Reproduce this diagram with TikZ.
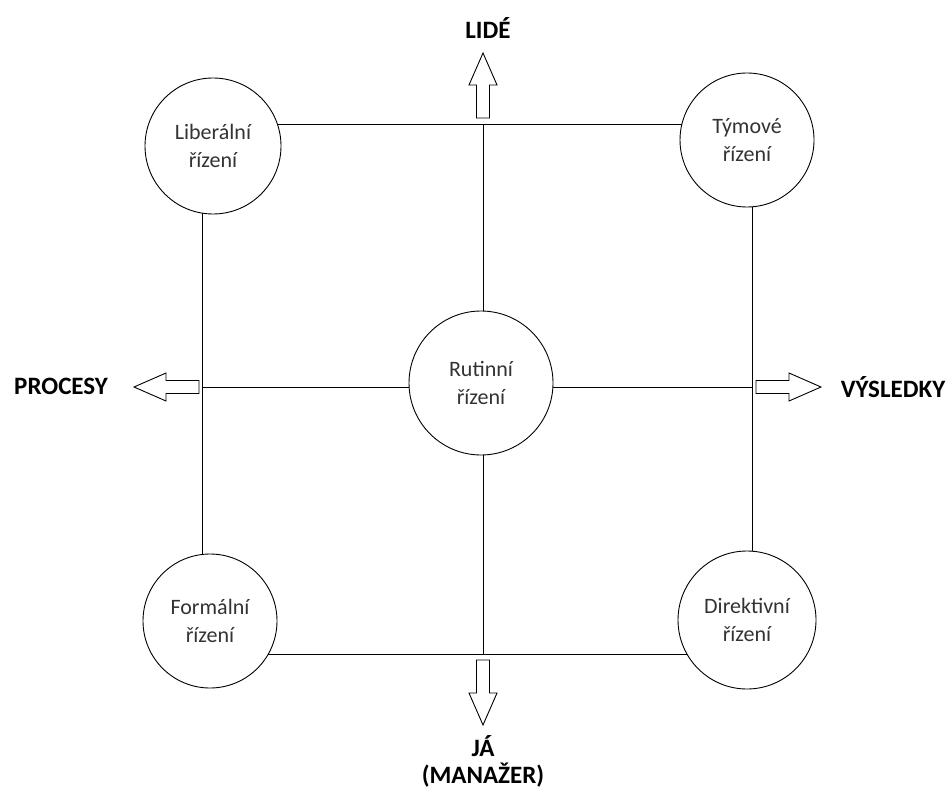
\documentclass[tikz,border=0pt]{standalone}
\usepackage{fontspec}
\setmainfont{Carlito}
\usetikzlibrary{calc}
\tikzset{>=latex}
\tikzset{
  kruh/.style={circle,draw,fill=white,inner sep=0pt,line width=0.9pt,
    text=black!80,align=center,font=\fontsize{22}{28}\selectfont},
  popis/.style={align=center,font=\fontsize{25}{27}\selectfont\bfseries},
  sipka/.style={draw,fill=white,line width=0.9pt}
}
\newcommand{\blokSipka}[2]{%
  \draw[sipka,shift={#1},rotate=#2] (0,-6.5) -- (33,-6.5) -- (33,-14)
  -- (65,0) -- (33,14) -- (33,6.5) -- (0,6.5) -- cycle;}

\begin{document}
\begin{tikzpicture}[x=1pt,y=-1pt]
  \useasboundingbox (0,0) rectangle (949,791);
  % rohy a stredy stran
  \coordinate (A) at (202,125);
  \coordinate (B) at (752,125);
  \coordinate (C) at (752,654);
  \coordinate (D) at (202,654);
  \coordinate (L) at (202,387);
  \coordinate (P) at (752,387);
  \coordinate (H) at (483,125);
  \coordinate (S) at (483,654);
  \draw[line width=1pt] (A) -- (B) -- (C) -- (D) -- cycle;
  \draw[line width=1pt] (L) -- (P);
  \draw[line width=1pt] (H) -- (S);
  % styly rizeni
  \node[kruh,minimum size=136] (liber) at (213,146) {Liberální\\řízení};
  \node[kruh,minimum size=134] (tym) at (747,140) {Týmové\\řízení};
  \node[kruh,minimum size=134] (form) at (210,621) {Formální\\řízení};
  \node[kruh,minimum size=138] (dir) at (747,620) {Direktivní\\řízení};
  \node[kruh,minimum size=144] (rut) at (481,383) {Rutinní\\řízení};
  % sipky
  \blokSipka{(483,118)}{90}
  \blokSipka{(199,387)}{180}
  \blokSipka{(756,387)}{0}
  \blokSipka{(483,660)}{270}
  % popisky
  \node[popis] (lide) at (488,28) {LIDÉ};
  \node[popis] (procesy) at (61,386) {PROCESY};
  \node[popis] (vysledky) at (893,387) {VÝSLEDKY};
  \node[popis] (ja) at (483,761) {JÁ\\(MANAŽER)};
\end{tikzpicture}
\end{document}
